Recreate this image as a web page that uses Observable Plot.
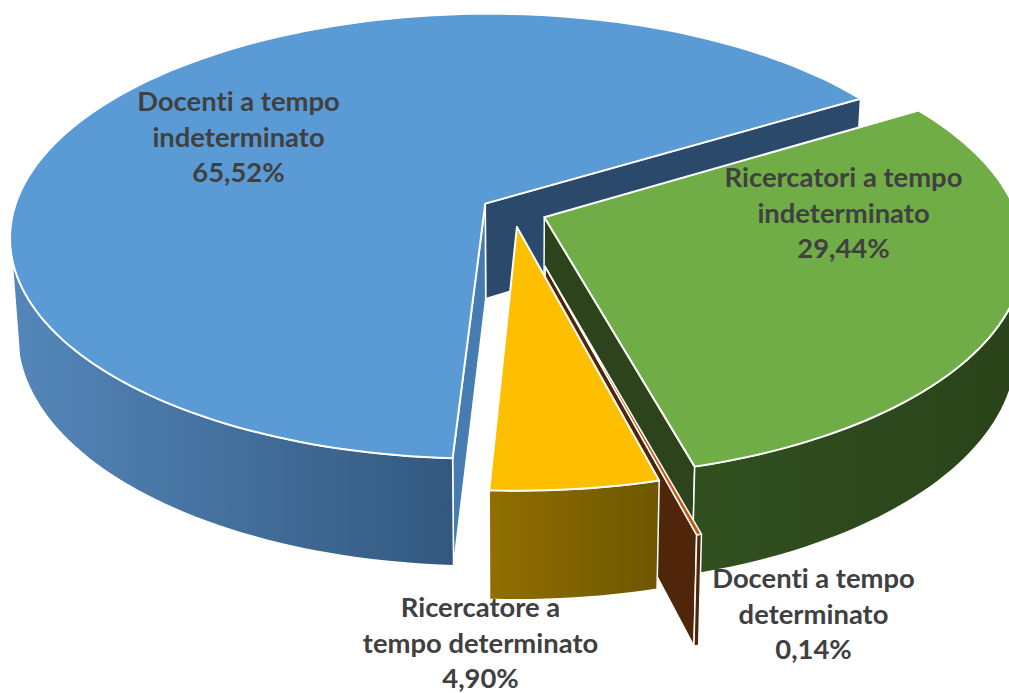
<!DOCTYPE html>
<html><head><meta charset="utf-8">
<style>html,body{margin:0;padding:0;background:#fff;overflow:hidden}</style>
<script src="https://cdn.jsdelivr.net/npm/d3@7"></script>
<script src="https://cdn.jsdelivr.net/npm/@observablehq/plot@0.6"></script>
</head><body><div id="chart"></div>
<script>
// Data, clockwise from the starting angle
const categories = ["Docenti a tempo indeterminato","Ricercatori a tempo indeterminato","Docenti a tempo determinato","Ricercatore a tempo determinato"];
const shares = [65.52, 29.44, 0.14, 4.90];
const shareLabels = ["65,52%","29,44%","0,14%","4,90%"];
const labelLines = [["Docenti a tempo","indeterminato"],["Ricercatori a tempo","indeterminato"],["Docenti a tempo","determinato"],["Ricercatore a","tempo determinato"]];
const explode = [0.07, 0.07, 0.25, 0.07];

// Styles and 3D view
const topColors = ["#5b9bd5","#70ad47","#c55a11","#fdbf00"];
const radialColors = ["#2b4a6b","#2c431c","#50260a","#6f5800"];
const sideStops = [["#5487ba","#33587f"],["#31501f","#2a431a"],["#50260a","#50260a"],["#916f00","#6e5700"]];
const sideRange = [[10,452],[695,1009],[650,700],[489,657]];
const W = 1009, H = 693, cx = 513, cy = 211, A = 472, B = 220, k = 0.147, depth = 0.44, recede = 0.015, startAngle = 182.9;
const labelPx = [[238,135],[843,211],[813,612],[480,641]];
const sideLimit = [[0,256-182.9],[100-58.87,106],[0,1],[0,18]]; // visible part of each outer wall, degrees along the slice

const rad = Math.PI/180;
let acc = startAngle;
const angles = shares.map(s => { const a=[acc, acc+s*3.6]; acc=a[1]; return a; });
function pt(i, deg, r, bottom){
  const bis = angles[i][0] + (angles[i][1]-angles[i][0])/2;
  const u = explode[i]*Math.sin(bis*rad) + r*Math.sin(deg*rad);
  const v = explode[i]*Math.cos(bis*rad) + r*Math.cos(deg*rad);
  const w = (1+k*v)*(bottom ? 1+recede : 1);
  return {x:u/w, y:(v-(bottom?depth:0))/w};
}
function arc(i, bottom, a, b){
  const n = Math.max(2, Math.ceil((b-a)/1.5)), out=[];
  for(let j=0;j<=n;j++) out.push(pt(i, a+(b-a)*j/n, 1, bottom));
  return out;
}
const close = p => [...p, p[0]];
const topFace = i => close([pt(i,0,0,false), ...arc(i,false,angles[i][0],angles[i][1])]);
const sideFace = i => {
  const a = angles[i][0]+sideLimit[i][0], b = Math.min(angles[i][1], angles[i][0]+sideLimit[i][1]);
  return close([...arc(i,false,a,b), ...arc(i,true,a,b).reverse()]);
};
const radialFace = (i,deg) => close([pt(i,0,0,false), pt(i,deg,1,false), pt(i,deg,1,true), pt(i,0,0,true)]);
const poly = (data, fill, strokeWidth) => Plot.line(data,{x:"x",y:"y",fill,stroke:"#fff",strokeWidth,strokeLinejoin:"round",curve:"linear"});

const defs = () => {
  const d = d3.create("svg:defs");
  sideStops.forEach((s,i)=>{
    const g = d.append("linearGradient").attr("id","side"+i).attr("gradientUnits","userSpaceOnUse")
      .attr("x1",sideRange[i][0]).attr("x2",sideRange[i][1]).attr("y1",0).attr("y2",0);
    g.append("stop").attr("offset",0).attr("stop-color",s[0]);
    g.append("stop").attr("offset",1).attr("stop-color",s[1]);
  });
  return d.node();
};

const marks = [defs];
// blue
marks.push(poly(radialFace(0,angles[0][1]), radialColors[0], 1.5));
marks.push(poly(radialFace(0,angles[0][0]), "#467cb0", 1.5));
marks.push(poly(sideFace(0), "url(#side0)", 1.5));
marks.push(poly(topFace(0), topColors[0], 2));
// green
marks.push(poly(radialFace(1,angles[1][1]), radialColors[1], 1.5));
marks.push(poly(sideFace(1), "url(#side1)", 1.5));
marks.push(poly(topFace(1), topColors[1], 2));
// orange
marks.push(poly(radialFace(2,angles[2][1]), radialColors[2], 1.5));
marks.push(poly(sideFace(2), "url(#side2)", 1.5));
marks.push(poly(topFace(2), topColors[2], 1.5));
// yellow
marks.push(poly(sideFace(3), "url(#side3)", 1.5));
marks.push(poly(topFace(3), topColors[3], 2));

const labels = categories.map((c,i)=>({
  x:(labelPx[i][0]-cx)/A, y:(cy-labelPx[i][1])/B,
  text:[...labelLines[i], shareLabels[i]].join("\n")
}));
marks.push(Plot.text(labels,{x:"x",y:"y",text:"text",fill:"#404040",fontSize:27.4,fontWeight:700,lineHeight:1.295,textAnchor:"middle",lineAnchor:"middle"}));

const plot = Plot.plot({
  width:W, height:H, margin:0,
  style:{fontFamily:"Lato, sans-serif",background:"#fff",overflow:"hidden",fontVariantLigatures:"none"},
  x:{domain:[(0-cx)/A,(W-cx)/A],range:[0,W],axis:null},
  y:{domain:[cy/B,(cy-H)/B],range:[0,H],axis:null},
  marks
});
document.getElementById("chart").appendChild(plot);
</script></body></html>
